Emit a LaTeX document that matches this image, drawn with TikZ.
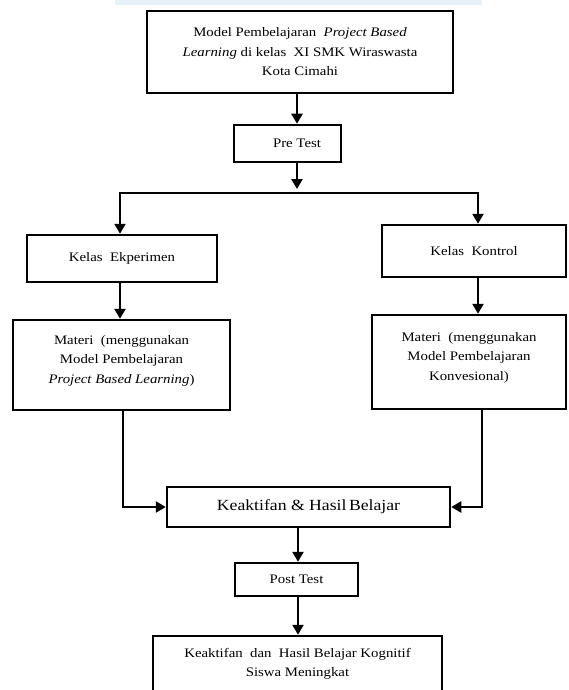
\documentclass[tikz,border=0pt]{standalone}
\usepackage{fontspec}
\setmainfont{Liberation Serif}[FakeStretch=1.14]
\usetikzlibrary{arrows.meta}
\definecolor{band}{RGB}{230,241,250}
\begin{document}
\begin{tikzpicture}[x=1pt,y=-1pt,
 box/.style={draw, line width=2.5pt, rectangle, inner sep=0pt, align=center, font=\fontsize{13}{19.5}\selectfont},
 arr/.style={line width=2.4pt, -{Triangle[length=10pt,width=11pt]}}]
\clip (0,0) rectangle (569,690);
\fill[band] (115,0) rectangle (482,5);
\node[box, minimum width=306, minimum height=82] (top) at (300,52) {Model Pembelajaran\ \ \textit{Project Based}\\ \textit{Learning} di kelas\ \ XI SMK Wiraswasta\\ Kota Cimahi};
\node[box, minimum width=107, minimum height=37] (pre) at (287.5,143.5) {\hspace*{19pt}Pre Test};
\node[box, minimum width=190, minimum height=47] (eksp) at (122,258.5) {Kelas\ \ Ekperimen};
\node[box, minimum width=184, minimum height=52] (kontrol) at (474,251) {Kelas\ \ Kontrol};
\node[box, minimum width=217, minimum height=90] (materi1) at (121.5,365) {Materi\ \ (menggunakan\\ Model Pembelajaran\\ \textit{Project Based Learning})\\[-8pt]};
\node[box, minimum width=194, minimum height=94] (materi2) at (469,362) {Materi\ \ (menggunakan\\ Model Pembelajaran\\ Konvesional)\\[-8pt]};
\node[box, minimum width=283, minimum height=40, font=\fontsize{15.5}{18}\selectfont] (keak) at (308.5,507) {Keaktifan \& Hasil\,Belajar};
\node[box, minimum width=123, minimum height=33] (post) at (296.5,579.5) {Post Test};
\node[box, minimum width=289, minimum height=56] (final) at (297.5,664) {Keaktifan\ \ dan\ \ Hasil Belajar\ Kognitif\\ Siswa Meningkat};
\coordinate (ax) at (297,0);
\coordinate (split) at (297,193);
\coordinate (lx) at (120,0);
\coordinate (rx) at (478,0);
\coordinate (lx2) at (123,0);
\coordinate (rx2) at (482,0);
\coordinate (bx) at (298,0);
\draw[arr] (top.south -| ax) -- (pre.north -| ax);
\draw[arr] (pre.south -| ax) -- ([yshift=4pt]split);
\draw[arr] (split) -| (eksp.north -| lx);
\draw[arr] (split) -| (kontrol.north -| rx);
\draw[arr] (eksp.south -| lx) -- (materi1.north -| lx);
\draw[arr] (kontrol.south -| rx) -- (materi2.north -| rx);
\draw[arr] (materi1.south -| lx2) |- (keak.west);
\draw[arr] (materi2.south -| rx2) |- (keak.east);
\draw[arr] (keak.south -| bx) -- (post.north -| bx);
\draw[arr] (post.south -| bx) -- (final.north -| bx);
\end{tikzpicture}
\end{document}
